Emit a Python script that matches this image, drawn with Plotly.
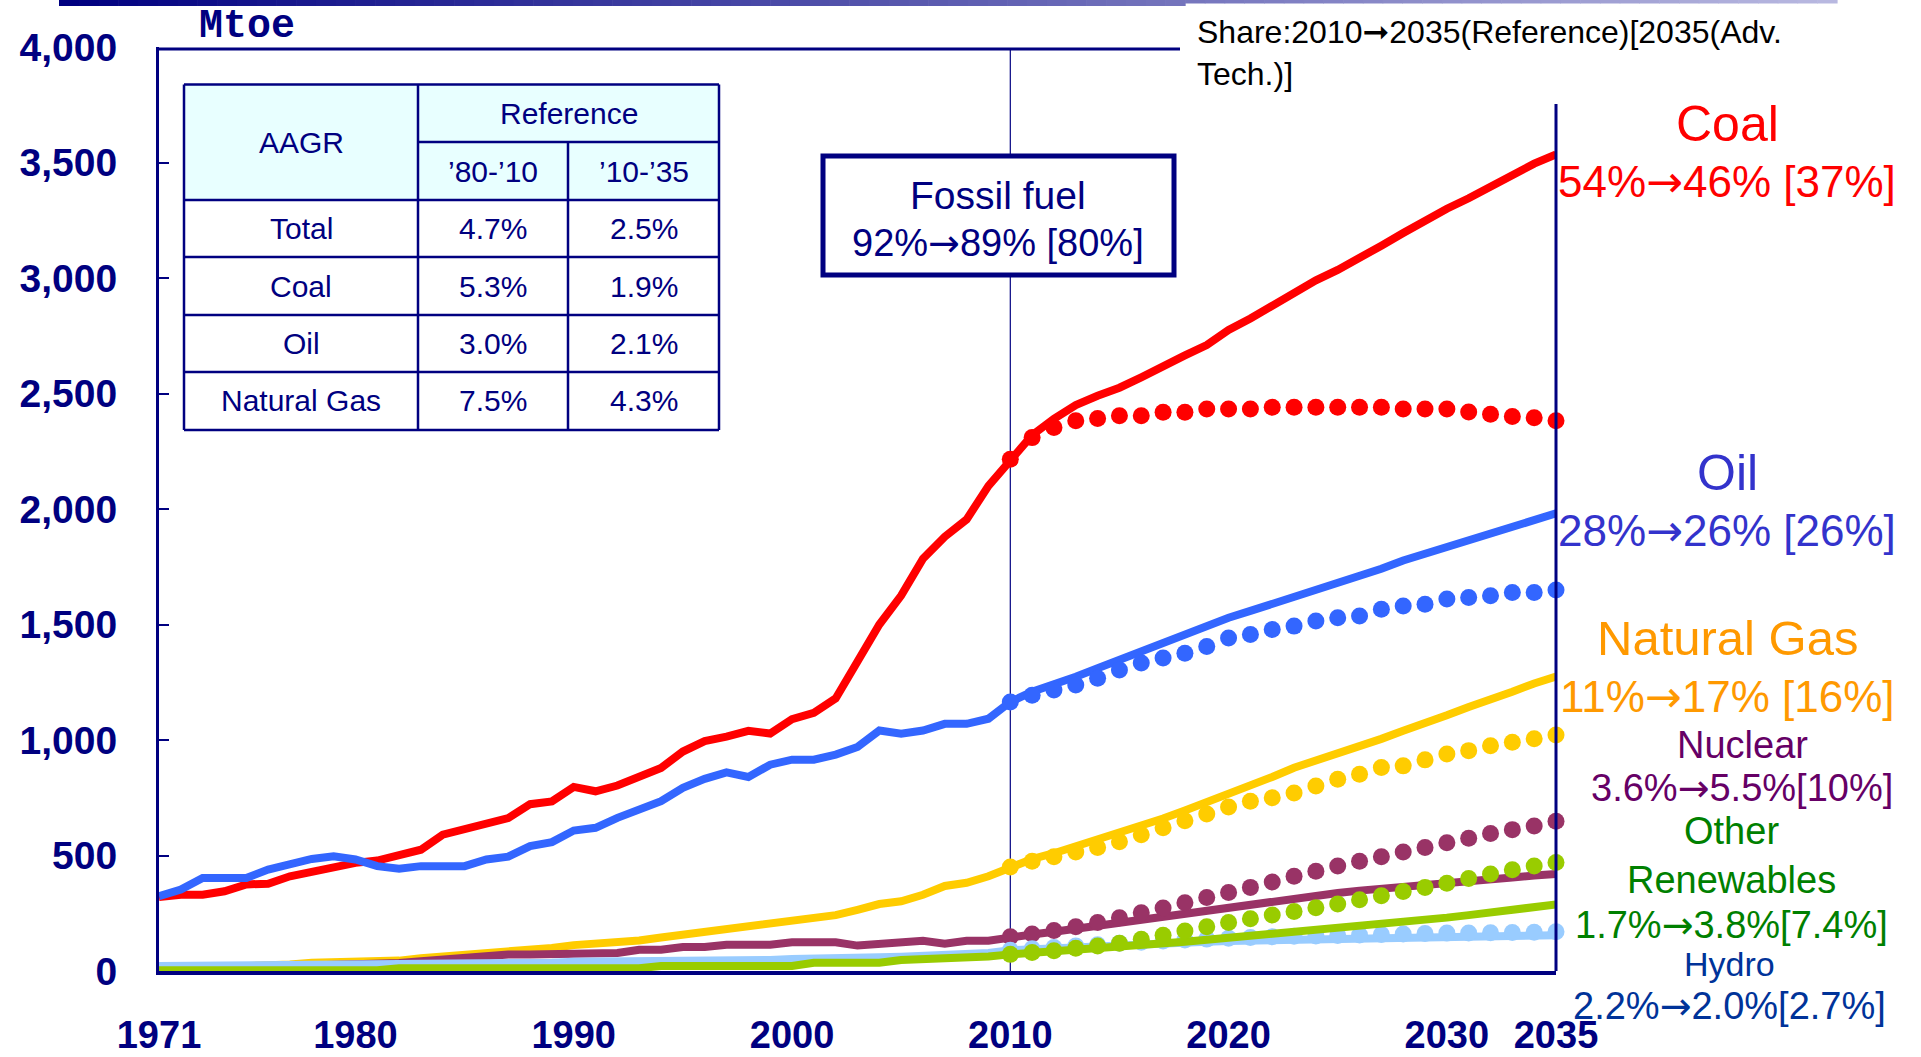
import plotly.graph_objects as go

# ---------------- data ----------------
years_all = list(range(1971, 2036))
years_proj = list(range(2010, 2036))

coal_ref = [320, 330, 330, 345, 375, 378, 410, 432, 452, 468,
            478, 500, 525, 590, 615, 640, 662, 722, 734, 797,
            778, 803, 843, 879, 950, 995, 1015, 1040, 1028, 1090,
            1118, 1180, 1340, 1500, 1625, 1785, 1880, 1955, 2100, 2215,
            2320, 2390, 2450, 2490, 2525, 2570, 2620, 2665, 2710, 2775,
            2825, 2880, 2940, 2990, 3035, 3085, 3140, 3195, 3250, 3300,
            3345, 3395, 3445, 3495, 3535]
oil_ref = [324, 353, 403, 403, 403, 439, 461, 485, 497, 483,
           454, 443, 454, 454, 454, 483, 495, 541, 558, 608,
           620, 663, 696, 735, 793, 832, 860, 840, 893, 915,
           915, 937, 970, 1041, 1027, 1041, 1070, 1070, 1092, 1165,
           1209, 1238, 1274, 1311, 1347, 1384, 1427, 1459, 1493, 1529,
           1559, 1588, 1617, 1653, 1675, 1712, 1741, 1777, 1806, 1836,
           1872, 1894, 1930, 1952, 1981]
gas_ref = [8, 10, 14, 18, 20, 20, 28, 36, 38, 38,
           40, 45, 55, 62, 68, 75, 80, 90, 100, 112,
           120, 120, 132, 145, 158, 170, 182, 193, 205, 217,
           230, 242, 265, 290, 302, 330, 368, 382, 410, 450,
           485, 510, 540, 565, 600, 625, 660, 695, 730, 765,
           800, 840, 880, 910, 940, 975, 1005, 1040, 1070, 1107,
           1143, 1172, 1209, 1245, 1275]
nuclear_ref = [5, 7, 9, 12, 15, 18, 22, 26, 28, 30,
               33, 35, 42, 50, 56, 63, 71, 71, 71, 76,
               78, 78, 92, 92, 104, 104, 114, 114, 114, 124,
               124, 124, 110, 118, 131, 131, 118, 131, 131, 148,
               158, 170, 183, 197, 212, 226, 240, 255, 268, 280,
               292, 303, 314, 326, 338, 348, 355, 365, 373, 382,
               390, 397, 405, 413, 420]
hydro_ref = [22, 22, 23, 23, 24, 24, 25, 26, 27, 28,
             30, 30, 31, 31, 32, 33, 33, 36, 36, 40,
             40, 41, 42, 42, 44, 45, 46, 47, 48, 52,
             52, 58, 58, 60, 62, 64, 70, 72, 78, 90,
             95, 100, 105, 110, 115, 118, 121, 124, 127, 130,
             132, 134, 136, 138, 140, 141, 142, 143, 144, 145,
             147, 149, 151, 153, 155]
renew_ref = [3, 3, 3, 3, 3, 3, 3, 3, 3, 3,
             3, 12, 12, 12, 12, 12, 12, 12, 12, 12,
             12, 12, 12, 22, 22, 22, 22, 22, 22, 22,
             36, 36, 36, 36, 48, 50, 52, 60, 63, 72,
             78, 84, 90, 96, 103, 111, 119, 127, 135, 143,
             152, 161, 170, 179, 188, 197, 206, 215, 223, 231,
             242, 254, 265, 277, 288]

coal_adv = [2215, 2309, 2353, 2382, 2392, 2404, 2404, 2419, 2419, 2433,
            2433, 2433, 2440, 2440, 2440, 2440, 2440, 2440, 2433, 2433,
            2433, 2420, 2410, 2400, 2395, 2382]
oil_adv = [1165, 1194, 1216, 1238, 1267, 1303, 1333, 1355, 1376, 1405,
           1442, 1457, 1478, 1493, 1515, 1529, 1537, 1566, 1580, 1588,
           1610, 1617, 1624, 1639, 1639, 1649]
gas_adv = [450, 475, 495, 515, 535, 560, 590, 620, 650, 680,
           710, 735, 750, 771, 801, 830, 852, 881, 888, 914,
           939, 954, 975, 990, 1005, 1022]
nuclear_adv = [148, 160, 175, 192, 210, 230, 252, 273, 295, 318,
               340, 362, 385, 410, 432, 455, 475, 495, 515, 535,
               555, 575, 595, 612, 628, 648]
hydro_adv = [90, 96, 102, 108, 114, 120, 125, 130, 134, 138,
             142, 145, 148, 150, 152, 154, 156, 158, 160, 162,
             164, 165, 166, 167, 168, 170]
renew_adv = [72, 80, 88, 98, 108, 120, 137, 155, 173, 192,
             210, 226, 242, 258, 274, 290, 308, 326, 344, 362,
             380, 400, 420, 438, 455, 470]

x_tick_vals = [1971, 1980, 1990, 2000, 2010, 2020, 2030, 2035]
x_tick_text = ["1971", "1980", "1990", "2000", "2010", "2020", "2030", "2035"]
y_tick_vals = [0, 500, 1000, 1500, 2000, 2500, 3000, 3500, 4000]
y_tick_text = ["0", "500", "1,000", "1,500", "2,000", "2,500", "3,000", "3,500", "4,000"]

table_head = ["AAGR", "Reference", "’80-’10", "’10-’35"]
table_rows = ["Total", "Coal", "Oil", "Natural Gas"]
aagr_80_10 = ["4.7%", "5.3%", "3.0%", "7.5%"]
aagr_10_35 = ["2.5%", "1.9%", "2.1%", "4.3%"]

ARROW = '<span style="font-family:DejaVu Sans">→</span>'
HEAVY = '<span style="font-family:DejaVu Sans">➞</span>'

fossil_title = "Fossil fuel"
fossil_share = "92%" + ARROW + "89% [80%]"
share_note = "Share:2010" + HEAVY + "2035(Reference)[2035(Adv.<br>Tech.)]"

right_labels = [
    ("Coal", 1727, 124, 50, "#FF0000"),
    ("54%" + ARROW + "46% [37%]", 1727, 181, 44, "#FF0000"),
    ("Oil", 1727, 473, 50, "#3333CC"),
    ("28%" + ARROW + "26% [26%]", 1727, 530, 44, "#3333CC"),
    ("Natural Gas", 1727, 638, 49, "#FF9900"),
    ("11%" + ARROW + "17% [16%]", 1727, 696, 44, "#FF9900"),
    ("Nuclear", 1742, 745, 38, "#660066"),
    ("3.6%" + ARROW + "5.5%[10%]", 1742, 788, 38, "#660066"),
    ("Other", 1731, 831, 38, "#008000"),
    ("Renewables", 1731, 880, 38, "#008000"),
    ("1.7%" + ARROW + "3.8%[7.4%]", 1731, 925, 38, "#008000"),
    ("Hydro", 1730, 964, 34, "#003399"),
    ("2.2%" + ARROW + "2.0%[2.7%]", 1729, 1006, 38, "#003399"),
]

# ---------------- styles ----------------
NAVY = "#000080"
FONT = "Liberation Sans"
series = [
    ("Coal", coal_ref, coal_adv, "#FF0000"),
    ("Oil", oil_ref, oil_adv, "#3366FF"),
    ("Natural Gas", gas_ref, gas_adv, "#FFCC00"),
    ("Nuclear", nuclear_ref, nuclear_adv, "#993366"),
    ("Hydro", hydro_ref, hydro_adv, "#99CCFF"),
    ("Other Renewables", renew_ref, renew_adv, "#99CC00"),
]

W, H = 1921, 1057
L, R, T, B = 159, 365, 47, 86
PW, PH = W - L - R, H - T - B


def px(x):
    return (x - L) / PW


def py(y):
    return (H - B - y) / PH


fig = go.Figure()
for name, ref, adv, col in series:
    fig.add_trace(go.Scatter(x=years_all, y=ref, mode="lines", name=name,
                             line=dict(color=col, width=8), showlegend=False))
    fig.add_trace(go.Scatter(x=years_proj, y=adv, mode="markers", name=name + " (Adv.)",
                             marker=dict(color=col, size=17), cliponaxis=False,
                             showlegend=False))

shapes = []
# decorative gradient bar at top
N = 90
xa, xb, xcut = 59, 1837, 1182
c0, c1 = (0, 0, 128), (184, 184, 224)
for i in range(N):
    x0 = xa + (xb - xa) * i / N
    x1 = xa + (xb - xa) * (i + 1) / N + 0.6
    t = i / (N - 1)
    col = "rgb(%d,%d,%d)" % tuple(round(c0[k] + (c1[k] - c0[k]) * t) for k in range(3))
    hh = 6 if x0 < xcut else 3.5
    shapes.append(dict(type="rect", xref="paper", yref="paper", x0=px(x0), x1=px(x1),
                       y0=py(hh), y1=py(0), line=dict(width=0), fillcolor=col, layer="below"))

# frame parts
shapes.append(dict(type="line", xref="paper", yref="paper", x0=0, x1=px(1180),
                   y0=py(49), y1=py(49), line=dict(color=NAVY, width=3)))
shapes.append(dict(type="line", xref="paper", yref="paper", x0=1, x1=1,
                   y0=0, y1=py(104), line=dict(color=NAVY, width=3)))
shapes.append(dict(type="line", xref="x", yref="paper", x0=2010, x1=2010,
                   y0=0, y1=py(49), line=dict(color=NAVY, width=1.2), layer="below"))

# table
cx = [184, 418, 568, 719]
ry = [84.5, 142, 200, 257, 315, 372, 430]
shapes.append(dict(type="rect", xref="paper", yref="paper", x0=px(cx[0]), x1=px(cx[3]),
                   y0=py(ry[2]), y1=py(ry[0]), fillcolor="#E8FFFF", line=dict(width=0)))
shapes.append(dict(type="rect", xref="paper", yref="paper", x0=px(cx[0]), x1=px(cx[3]),
                   y0=py(ry[6]), y1=py(ry[2]), fillcolor="white", line=dict(width=0)))
tl = dict(color=NAVY, width=2.5)
for yy in [ry[0], ry[2], ry[3], ry[4], ry[5], ry[6]]:
    shapes.append(dict(type="line", xref="paper", yref="paper", x0=px(cx[0]), x1=px(cx[3]),
                       y0=py(yy), y1=py(yy), line=tl))
shapes.append(dict(type="line", xref="paper", yref="paper", x0=px(cx[1]), x1=px(cx[3]),
                   y0=py(ry[1]), y1=py(ry[1]), line=tl))
for xx in [cx[0], cx[1], cx[3]]:
    shapes.append(dict(type="line", xref="paper", yref="paper", x0=px(xx), x1=px(xx),
                       y0=py(ry[6]), y1=py(ry[0]), line=tl))
shapes.append(dict(type="line", xref="paper", yref="paper", x0=px(cx[2]), x1=px(cx[2]),
                   y0=py(ry[6]), y1=py(ry[1]), line=tl))

# fossil fuel box
shapes.append(dict(type="rect", xref="paper", yref="paper", x0=px(823), x1=px(1174),
                   y0=py(275), y1=py(156), fillcolor="white", line=dict(color=NAVY, width=5)))

ann = []


def add_text(text, x, y, size, color, family=FONT, weight="normal", xanchor="center"):
    ann.append(dict(text=text, xref="paper", yref="paper", x=px(x), y=py(y),
                    xanchor=xanchor, yanchor="middle", showarrow=False,
                    font=dict(family=family, size=size, color=color, weight=weight)))


add_text("Mtoe", 247, 27, 40, NAVY, family="Liberation Mono", weight="bold")

TS = 30
tcol = [(cx[0] + cx[1]) / 2, (cx[1] + cx[2]) / 2, (cx[2] + cx[3]) / 2]
add_text(table_head[0], tcol[0], (ry[0] + ry[2]) / 2, TS, NAVY)
add_text(table_head[1], (cx[1] + cx[3]) / 2, (ry[0] + ry[1]) / 2, TS, NAVY)
add_text(table_head[2], tcol[1], (ry[1] + ry[2]) / 2, TS, NAVY)
add_text(table_head[3], tcol[2], (ry[1] + ry[2]) / 2, TS, NAVY)
for i, lab in enumerate(table_rows):
    yc = (ry[2 + i] + ry[3 + i]) / 2
    add_text(lab, tcol[0], yc, TS, NAVY)
    add_text(aagr_80_10[i], tcol[1], yc, TS, NAVY)
    add_text(aagr_10_35[i], tcol[2], yc, TS, NAVY)

add_text(fossil_title, 998, 196, 39, NAVY)
add_text(fossil_share, 998, 243, 38, NAVY)

ann.append(dict(text=share_note, xref="paper", yref="paper", x=px(1195), y=py(11),
                xanchor="left", yanchor="top", align="left", showarrow=False,
                bgcolor="white",
                font=dict(family=FONT, size=32, color="black")))

for txt, x, y, s, c in right_labels:
    add_text(txt, x, y, s, c)

fig.update_layout(
    width=W, height=H,
    margin=dict(l=L, r=R, t=T, b=B, autoexpand=False),
    paper_bgcolor="white", plot_bgcolor="white",
    showlegend=False,
    shapes=shapes, annotations=ann,
    xaxis=dict(range=[1971, 2035], tickvals=x_tick_vals, ticktext=x_tick_text,
               showgrid=False, zeroline=False, showline=True, linecolor=NAVY, linewidth=3.5,
               ticks="", ticklabelstandoff=28, automargin=False,
               tickfont=dict(family=FONT, size=38, color=NAVY, weight="bold")),
    yaxis=dict(range=[0, 4000], tickvals=y_tick_vals, ticktext=y_tick_text,
               showgrid=False, zeroline=False, showline=True, linecolor=NAVY, linewidth=3,
               ticks="inside", ticklen=10, tickwidth=1.5, tickcolor=NAVY,
               ticklabelstandoff=31, automargin=False,
               tickfont=dict(family=FONT, size=39, color=NAVY, weight="bold")),
)

fig.write_html("out.html", config={"displayModeBar": False},
               post_script="document.body.style.margin='0';document.body.style.overflow='hidden';")
